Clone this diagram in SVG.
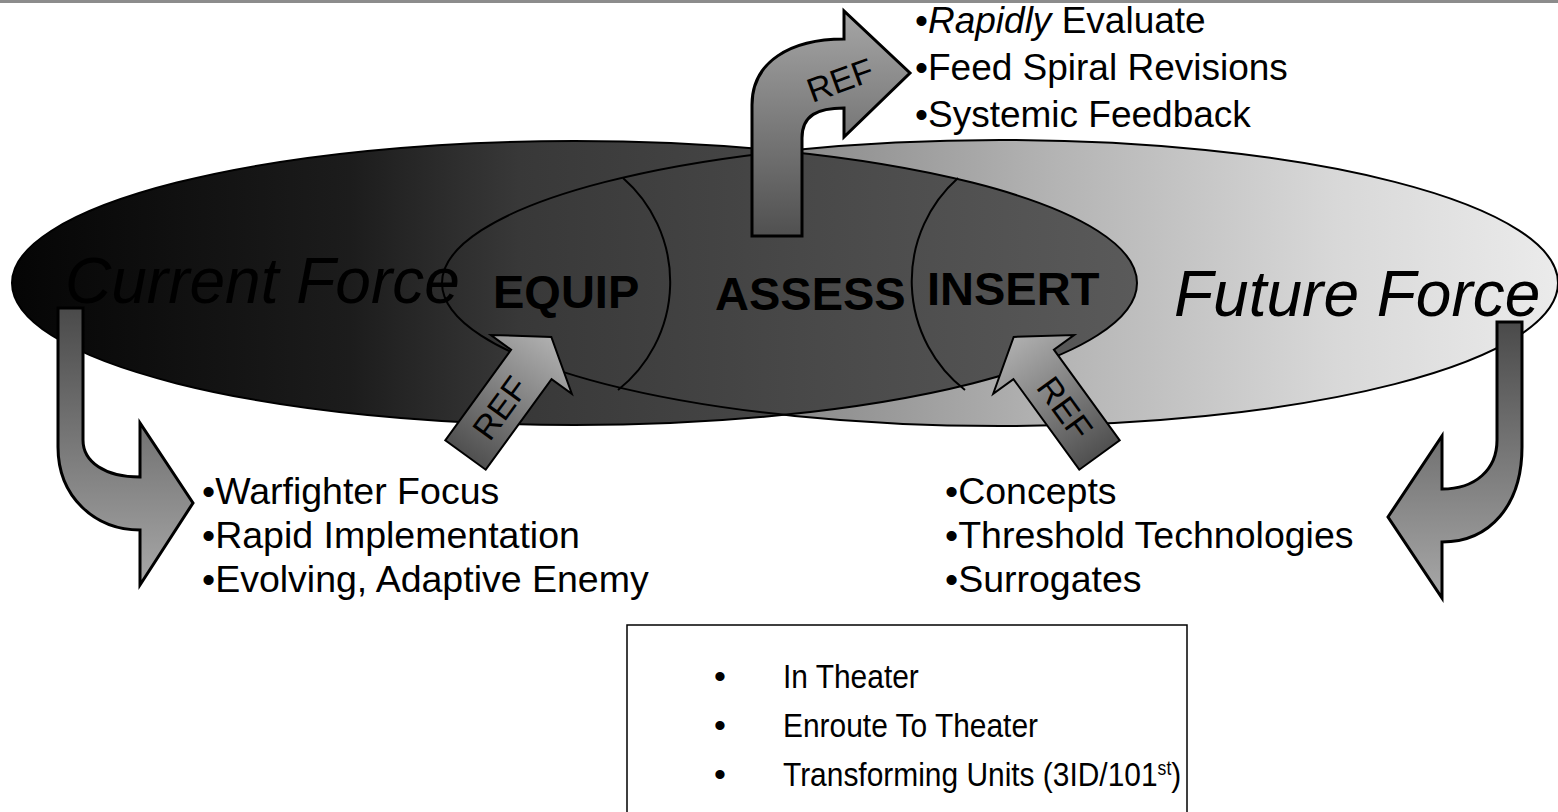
<svg xmlns="http://www.w3.org/2000/svg" width="1558" height="812" viewBox="0 0 1558 812">
<defs>
<style>
.t{font-family:"Liberation Sans",Arial,sans-serif;fill:#000}
.lst{font-size:37.5px}
.top{font-size:37px}
.big{font-size:64px;font-style:italic}
.lab{font-size:47px;font-weight:bold}
.ref{font-size:34px;text-anchor:middle}
.box{font-size:34px}
.ol{fill:none;stroke:#000;stroke-width:2}
.arr{stroke:#000;stroke-width:3;stroke-linejoin:miter}
.sarr{stroke:#000;stroke-width:2}
</style>
<linearGradient id="gL" gradientUnits="userSpaceOnUse" x1="12" y1="0" x2="1137" y2="0">
<stop offset="0" stop-color="#050505"/>
<stop offset="0.3" stop-color="#1c1c1c"/>
<stop offset="0.45" stop-color="#383838"/>
<stop offset="0.7" stop-color="#484848"/>
<stop offset="1" stop-color="#5a5a5a"/>
</linearGradient>
<linearGradient id="gR" gradientUnits="userSpaceOnUse" x1="443" y1="0" x2="1558" y2="0">
<stop offset="0" stop-color="#505050"/>
<stop offset="0.32" stop-color="#8c8c8c"/>
<stop offset="0.55" stop-color="#b4b4b4"/>
<stop offset="0.8" stop-color="#d8d8d8"/>
<stop offset="1" stop-color="#ebebeb"/>
</linearGradient>
<linearGradient id="gDown" x1="0" y1="0" x2="0" y2="1">
<stop offset="0" stop-color="#4a4a4a"/>
<stop offset="1" stop-color="#a8a8a8"/>
</linearGradient>
<linearGradient id="gUp" x1="0" y1="0" x2="0" y2="1">
<stop offset="0" stop-color="#a6a6a6"/>
<stop offset="1" stop-color="#505050"/>
</linearGradient>
<linearGradient id="gRef" x1="0" y1="0" x2="1" y2="0">
<stop offset="0" stop-color="#505050"/>
<stop offset="1" stop-color="#b0b0b0"/>
</linearGradient>
</defs>
<rect x="0" y="0" width="1558" height="812" fill="#fff"/>
<rect x="0" y="0" width="1558" height="3" fill="#8c8c8c"/>

<g id="future-force">
<ellipse cx="1000" cy="283" rx="558" ry="143" fill="url(#gR)"/>
</g>
<g id="current-force">
<ellipse cx="574.5" cy="283" rx="562.5" ry="142" fill="url(#gL)"/>
</g>
<g id="outlines">
<ellipse class="ol" cx="1000" cy="283" rx="558" ry="143"/>
<ellipse class="ol" cx="574.5" cy="283" rx="562.5" ry="142"/>
<path class="ol" stroke-width="1.5" d="M623,178 A138,138 0 0 1 618,390"/>
<path class="ol" stroke-width="1.5" d="M958,178 A138,138 0 0 0 965,390"/>
</g>

<g id="labels">
<text class="t big" x="65" y="303">Current Force</text>
<text class="t big" x="1174" y="316">Future Force</text>
<g id="equip"><text class="t lab" x="493" y="308">EQUIP</text></g>
<g id="assess"><text class="t lab" x="715" y="310">ASSESS</text></g>
<g id="insert"><text class="t lab" x="927" y="305">INSERT</text></g>
</g>

<g id="connectors">
<path class="arr" fill="url(#gUp)" d="M752,236 L752,105 C752,62 790,39 844,39 L844,11 L910,73 L844,137 L844,108 C818,108 802,115 802,138 L802,236 Z"/>
<text class="t ref" transform="translate(840,80) rotate(-20)" x="0" y="12">REF</text>

<path class="arr" fill="url(#gDown)" d="M58,308 L83,308 L83,440 C83,462 105,477 140,477 L140,423 L193,503 L140,585 L140,530 C95,530 58,497 58,447 Z"/>
<path class="arr" fill="url(#gDown)" d="M1497,322 L1522,322 L1522,447 C1522,505 1490,542 1442,542 L1442,598 L1388,517 L1442,436 L1442,489 C1475,489 1497,470 1497,440 Z"/>

<g transform="translate(465.5,455) rotate(-54)">
<polygon class="sarr" fill="url(#gRef)" points="0,-25 112,-25 112,-50 146,0 112,50 112,25 0,25"/>
</g>
<text class="t ref" transform="translate(500,408) rotate(-54)" x="0" y="12">REF</text>
<g transform="translate(1099.5,455) scale(-1,1) rotate(-54)">
<polygon class="sarr" fill="url(#gRef)" points="0,-25 112,-25 112,-50 146,0 112,50 112,25 0,25"/>
</g>
<text class="t ref" transform="translate(1065,408) rotate(54)" x="0" y="12">REF</text>
</g>

<g id="assess-notes">
<text class="t top" x="915" y="33">•<tspan font-style="italic">Rapidly</tspan> Evaluate</text>
<text class="t top" x="915" y="80">•Feed Spiral Revisions</text>
<text class="t top" x="915" y="127">•Systemic Feedback</text>
</g>
<g id="current-notes">
<text class="t lst" x="202" y="504">•Warfighter Focus</text>
<text class="t lst" x="202" y="548">•Rapid Implementation</text>
<text class="t lst" x="202" y="592">•Evolving, Adaptive Enemy</text>
</g>
<g id="future-notes">
<text class="t lst" x="945" y="504">•Concepts</text>
<text class="t lst" x="945" y="548">•Threshold Technologies</text>
<text class="t lst" x="945" y="592">•Surrogates</text>
</g>
<g id="units-box">
<rect x="627" y="625" width="560" height="200" fill="#fff" stroke="#000" stroke-width="1.5"/>
<text class="t box" x="714" y="688">•</text>
<text class="t box" x="714" y="737">•</text>
<text class="t box" x="714" y="786">•</text>
<g transform="translate(783,0) scale(0.88,1)">
<text class="t box" x="0" y="688">In Theater</text>
<text class="t box" x="0" y="737">Enroute To Theater</text>
<text class="t box" x="0" y="786">Transforming Units (3ID/101<tspan font-size="20" baseline-shift="super">st</tspan>)</text>
</g>
</g>
</svg>
